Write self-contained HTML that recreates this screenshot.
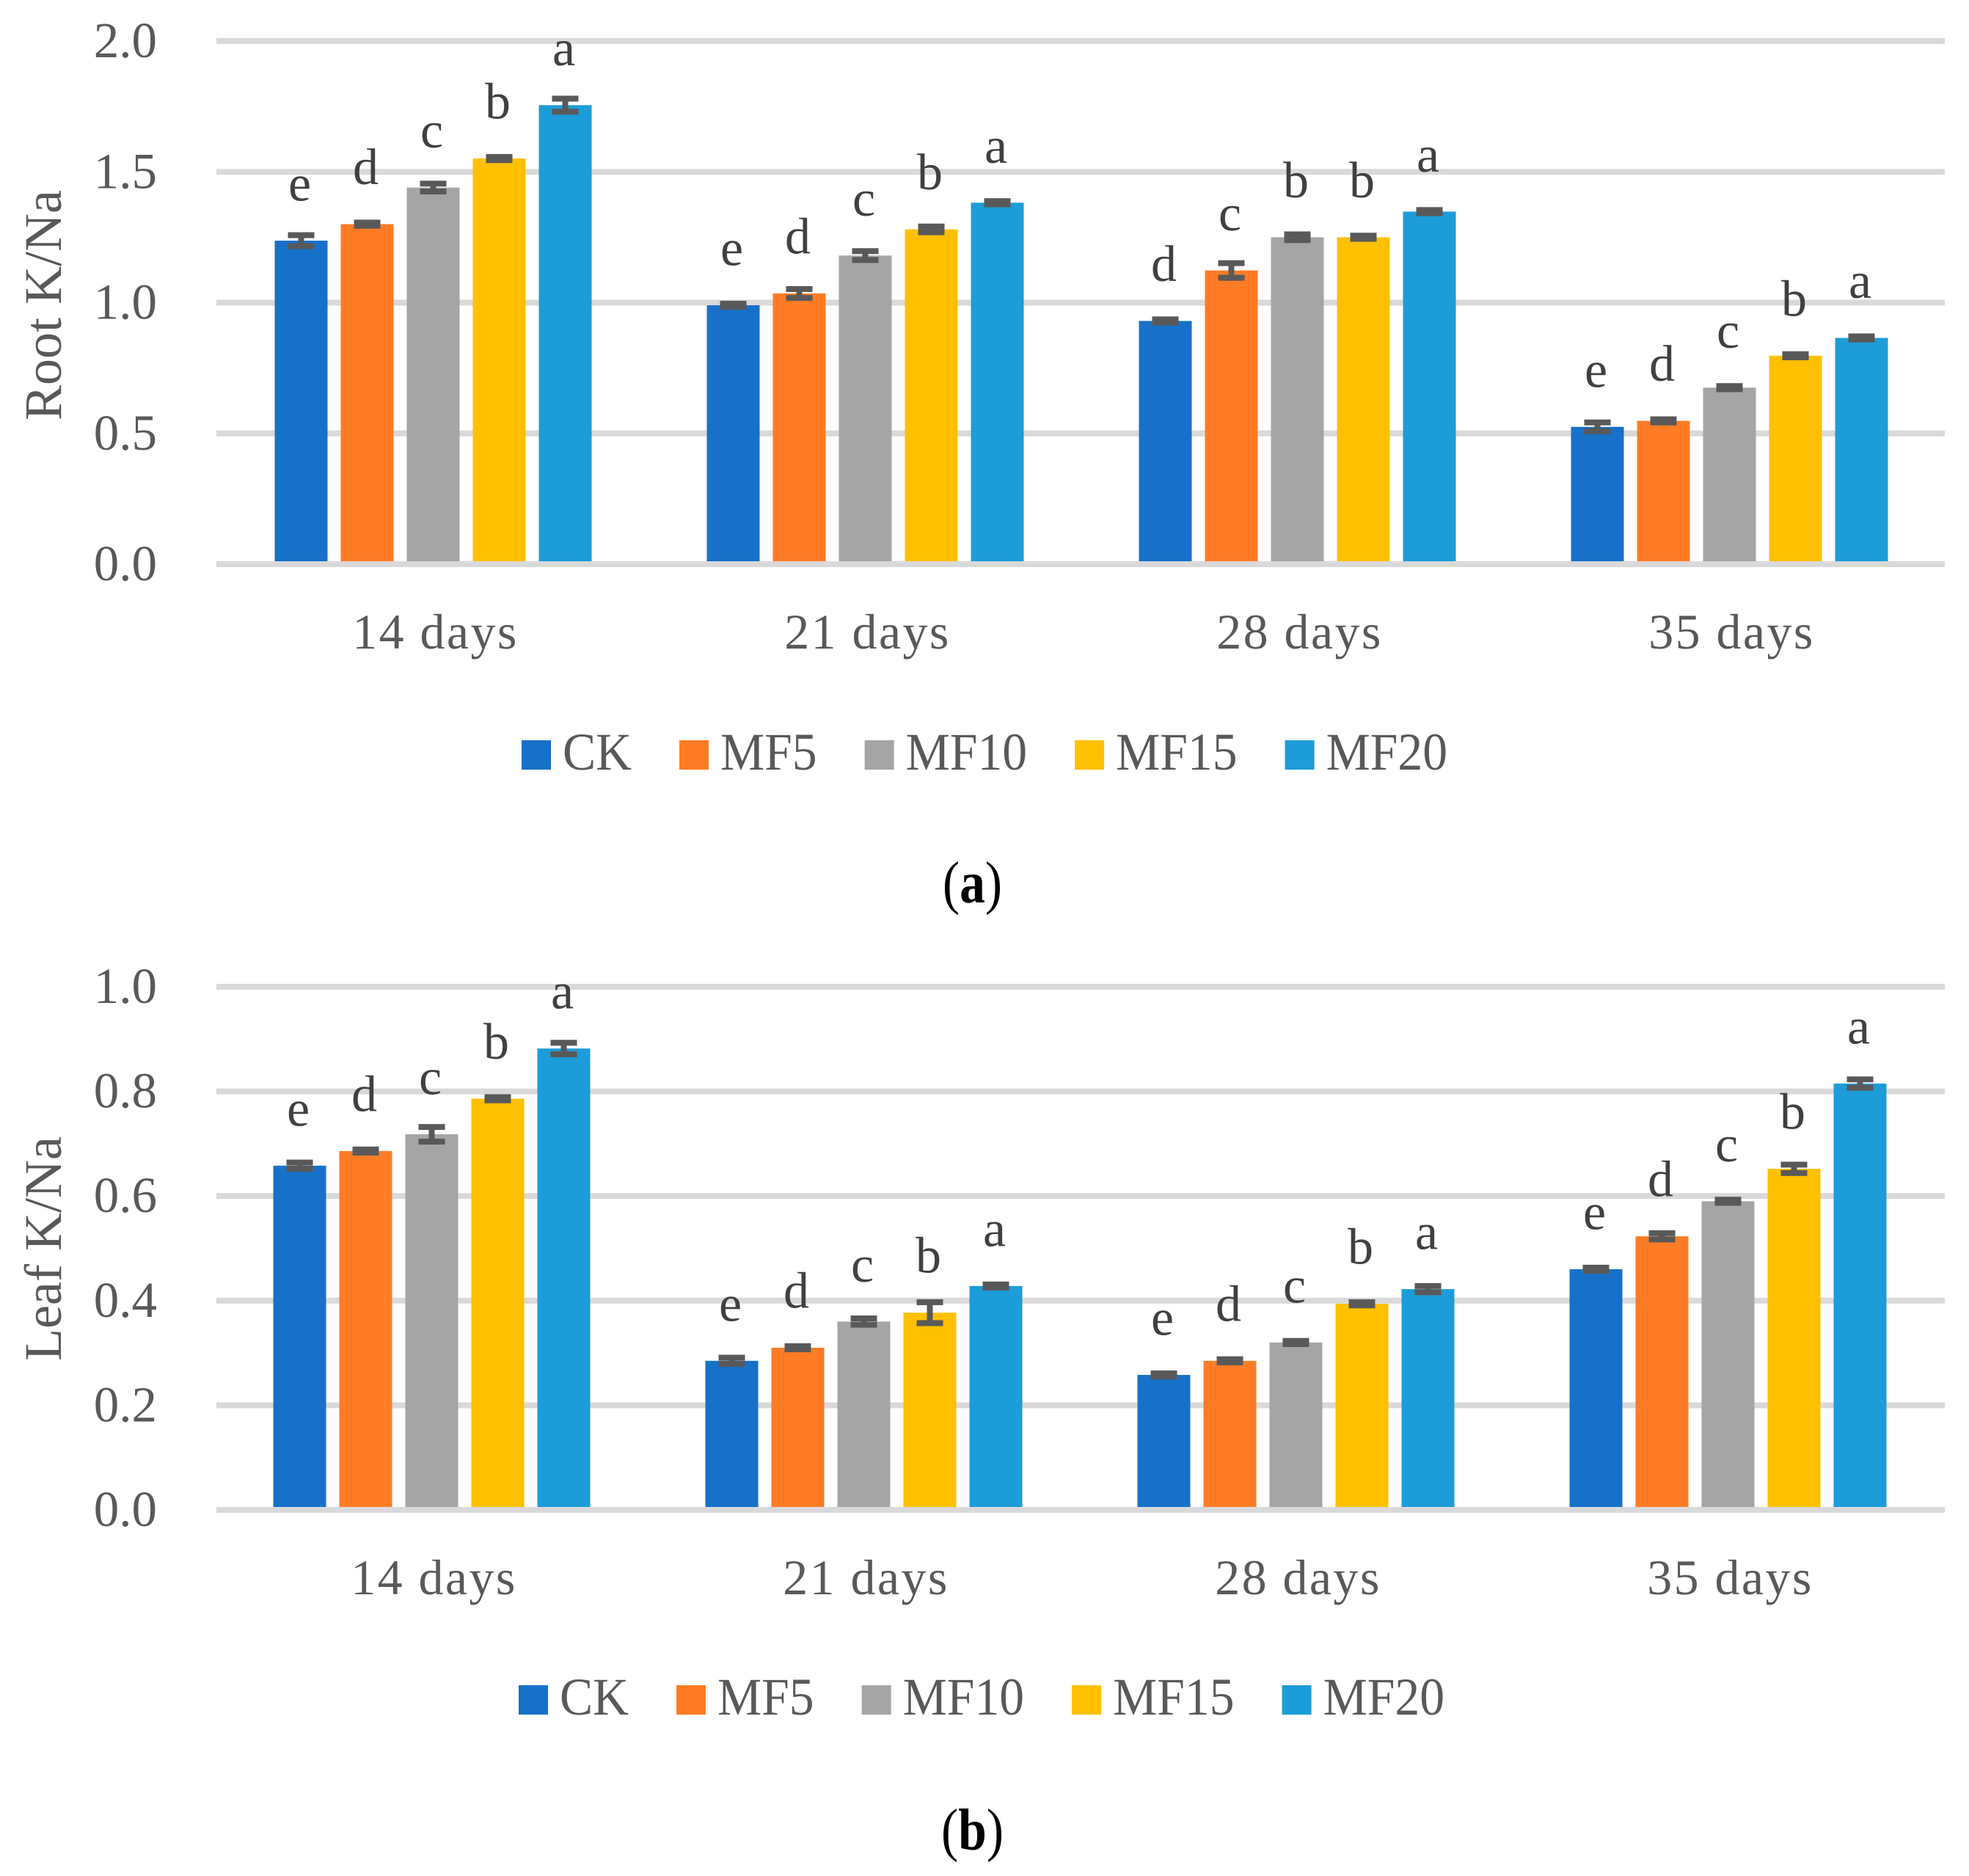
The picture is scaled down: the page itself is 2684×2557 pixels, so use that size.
<!DOCTYPE html>
<html lang="en">
<head>
<meta charset="utf-8">
<title>Root and Leaf K/Na bar charts</title>
<style>
html,body{margin:0;padding:0;background:#fff;}
#figure{display:block;width:2684px;height:2557px;}
text{font-family:"Liberation Serif",serif;}
</style>
</head>
<body>
<svg id="figure" xmlns="http://www.w3.org/2000/svg" width="2684" height="2557" viewBox="0 0 2684 2557"></svg>
<script>
const categories = ["14 days", "21 days", "28 days", "35 days"];
const seriesNames = ["CK", "MF5", "MF10", "MF15", "MF20"];
const seriesColors = ["#1771C9", "#FF7B25", "#A5A5A5", "#FFC000", "#1C9CD9"];

const rootTicks = ["0.0", "0.5", "1.0", "1.5", "2.0"];
const rootCK = [1.237, 0.99, 0.93, 0.525];
const rootMF5 = [1.30, 1.035, 1.123, 0.548];
const rootMF10 = [1.44, 1.18, 1.25, 0.675];
const rootMF15 = [1.551, 1.28, 1.25, 0.797];
const rootMF20 = [1.755, 1.382, 1.348, 0.865];
const rootErrCK = [0.021, 0.006, 0.006, 0.017];
const rootErrMF5 = [0.006, 0.017, 0.028, 0.006];
const rootErrMF10 = [0.015, 0.017, 0.011, 0.006];
const rootErrMF15 = [0.006, 0.011, 0.006, 0.006];
const rootErrMF20 = [0.025, 0.006, 0.006, 0.006];
const rootLetters14 = ["e", "d", "c", "b", "a"];
const rootLetters21 = ["e", "d", "c", "b", "a"];
const rootLetters28 = ["d", "c", "b", "b", "a"];
const rootLetters35 = ["e", "d", "c", "b", "a"];

const leafTicks = ["0.0", "0.2", "0.4", "0.6", "0.8", "1.0"];
const leafCK = [0.658, 0.285, 0.258, 0.46];
const leafMF5 = [0.686, 0.31, 0.285, 0.523];
const leafMF10 = [0.718, 0.36, 0.32, 0.59];
const leafMF15 = [0.786, 0.377, 0.394, 0.652];
const leafMF20 = [0.882, 0.428, 0.422, 0.815];
const leafErrCK = [0.006, 0.006, 0.003, 0.003];
const leafErrMF5 = [0.003, 0.003, 0.003, 0.006];
const leafErrMF10 = [0.014, 0.006, 0.003, 0.003];
const leafErrMF15 = [0.003, 0.02, 0.003, 0.008];
const leafErrMF20 = [0.011, 0.003, 0.006, 0.008];
const leafLetters14 = ["e", "d", "c", "b", "a"];
const leafLetters21 = ["e", "d", "c", "b", "a"];
const leafLetters28 = ["e", "d", "c", "b", "a"];
const leafLetters35 = ["e", "d", "c", "b", "a"];

const rootValues = [rootCK, rootMF5, rootMF10, rootMF15, rootMF20];
const rootErrors = [rootErrCK, rootErrMF5, rootErrMF10, rootErrMF15, rootErrMF20];
const rootLetters = [rootLetters14, rootLetters21, rootLetters28, rootLetters35];
const leafValues = [leafCK, leafMF5, leafMF10, leafMF15, leafMF20];
const leafErrors = [leafErrCK, leafErrMF5, leafErrMF10, leafErrMF15, leafErrMF20];
const leafLetters = [leafLetters14, leafLetters21, leafLetters28, leafLetters35];

const svg = document.getElementById("figure");
const NS = "http://www.w3.org/2000/svg";
const PLOT_LEFT = 295, PLOT_RIGHT = 2651;
const BAR_W = 72, BAR_STEP = 90, CAP_W = 36, CAP_H = 8, STEM_W = 8, GRID_H = 8;
const LETTER_GAP = 54.5;

function rect(parent, x, y, w, h, fill) {
  const r = document.createElementNS(NS, "rect");
  r.setAttribute("x", x);
  r.setAttribute("y", y);
  r.setAttribute("width", w);
  r.setAttribute("height", h);
  r.setAttribute("fill", fill);
  parent.appendChild(r);
  return r;
}
function label(parent, str, x, y, size, fill, anchor) {
  const t = document.createElementNS(NS, "text");
  t.setAttribute("x", x);
  t.setAttribute("y", y);
  t.setAttribute("font-size", size);
  t.setAttribute("fill", fill);
  t.setAttribute("text-anchor", anchor);
  t.textContent = str;
  parent.appendChild(t);
  return t;
}

function drawPanel(cfg) {
  const g = document.createElementNS(NS, "g");
  
  
  svg.appendChild(g);

  const yScale = v => cfg.zeroY + (cfg.topY - cfg.zeroY) * (v / cfg.maxValue);
  const band = (PLOT_RIGHT - PLOT_LEFT) / categories.length;
  const groupCenter = i => PLOT_LEFT + band * (i + 0.5) + cfg.barShift;
  const barX = (i, s) => groupCenter(i) - (BAR_STEP * (seriesNames.length - 1) + BAR_W) / 2 + BAR_STEP * s;

  // gridlines and y tick labels
  cfg.ticks.forEach((tick, k) => {
    const v = Number(tick);
    if (v !== 0) {
      const line = rect(g, PLOT_LEFT, yScale(v) - GRID_H / 2, PLOT_RIGHT - PLOT_LEFT, GRID_H, "#D9D9D9");
      
      
    }
    const t = label(g, tick, 214, yScale(v) + 22, 69, "#595959", "end");
    
    
  });

  // bars
  categories.forEach((cat, i) => {
    seriesNames.forEach((name, s) => {
      const v = cfg.values[s][i];
      const bar = rect(g, barX(i, s), yScale(v), BAR_W, cfg.zeroY - yScale(v), seriesColors[s]);
      
      
    });
  });

  // x axis line drawn above the bar feet
  const axis = rect(g, PLOT_LEFT, cfg.zeroY - GRID_H / 2, PLOT_RIGHT - PLOT_LEFT, GRID_H, "#D9D9D9");
  
  

  // error bars and significance letters
  categories.forEach((cat, i) => {
    seriesNames.forEach((name, s) => {
      const v = cfg.values[s][i];
      const e = cfg.errors[s][i];
      const cx = barX(i, s) + BAR_W / 2;
      const hi = yScale(v + e), lo = yScale(v - e);
      const stem = rect(g, cx - STEM_W / 2, hi, STEM_W, lo - hi, "#595959");
      
      
      const capTop = rect(g, cx - CAP_W / 2, hi - CAP_H / 2, CAP_W, CAP_H, "#595959");
      
      
      const capLow = rect(g, cx - CAP_W / 2, lo - CAP_H / 2, CAP_W, CAP_H, "#595959");
      
      
      const letter = label(g, cfg.letters[i][s], cx - 2, yScale(v) - LETTER_GAP, 70, "#404040", "middle");
      
      
    });
  });

  // category labels
  categories.forEach((cat, i) => {
    const t = label(g, cat, groupCenter(i) + cfg.catShift, cfg.catY, 68, "#595959", "middle");
    t.setAttribute("letter-spacing", "2.4");
    
    
  });

  // y axis title
  const title = label(g, cfg.yTitle, 0, 0, 72, "#595959", "middle");
  title.setAttribute("transform", "translate(83 " + cfg.yTitleCenter + ") rotate(-90)");
  
  

  // legend
  const legend = document.createElementNS(NS, "g");
  
  
  g.appendChild(legend);
  let lx = cfg.legendX;
  seriesNames.forEach((name, s) => {
    const sw = rect(legend, lx, cfg.legendY - 40, 40, 40, seriesColors[s]);
    
    
    const tx = lx + 56;
    const t = label(legend, name, 0, 0, 72, "#595959", "start");
    t.setAttribute("transform", "translate(" + tx + " " + cfg.legendY + ") scale(0.94 1)");
    
    
    lx = tx + t.getComputedTextLength() * 0.94 + 65;
  });

  // panel caption
  const cap = document.createElementNS(NS, "text");
  cap.setAttribute("transform", "translate(1325.5 " + cfg.captionY + ") scale(0.87 1)");
  cap.setAttribute("font-size", "80");
  cap.setAttribute("fill", "#000");
  cap.setAttribute("text-anchor", "middle");
  
  
  const open = document.createElementNS(NS, "tspan");
  open.textContent = "(";
  cap.appendChild(open);
  const bold = document.createElementNS(NS, "tspan");
  bold.setAttribute("font-weight", "700");
  bold.textContent = cfg.caption;
  cap.appendChild(bold);
  const close = document.createElementNS(NS, "tspan");
  close.textContent = ")";
  cap.appendChild(close);
  g.appendChild(cap);
}

drawPanel({
  id: "root", yTitle: "Root K/Na", caption: "a", ticks: rootTicks, maxValue: 2,
  values: rootValues, errors: rootErrors, letters: rootLetters,
  topY: 56, zeroY: 769, barShift: 1, catShift: 3, catY: 884,
  yTitleCenter: 416, legendX: 711, legendY: 1049, captionY: 1230
});
drawPanel({
  id: "leaf", yTitle: "Leaf K/Na", caption: "b", ticks: leafTicks, maxValue: 1,
  values: leafValues, errors: leafErrors, letters: leafLetters,
  topY: 1345, zeroY: 2058, barShift: -1, catShift: 3, catY: 2173,
  yTitleCenter: 1702, legendX: 707, legendY: 2337, captionY: 2521
});
</script>
</body>
</html>
